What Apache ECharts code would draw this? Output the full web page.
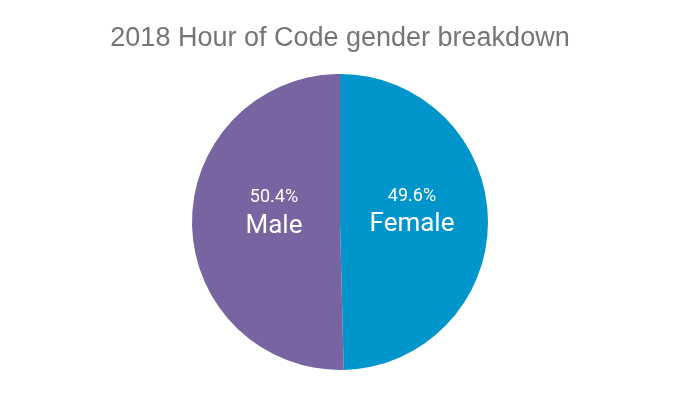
<!DOCTYPE html>
<html>
<head>
<meta charset="utf-8">
<script src="https://cdn.jsdelivr.net/npm/echarts@6/dist/echarts.min.js"></script>
<style>
  html, body { margin: 0; padding: 0; background: #fff; }
  #chart { width: 680px; height: 417px; }
</style>
</head>
<body>
<div id="chart"></div>
<script>
  var genders = ['Female', 'Male'];
  var shares = [49.6, 50.4];
  var colors = ['#0096cb', '#7764a1'];

  var myChart = echarts.init(document.getElementById('chart'));
  var pieData = [];
  for (var i = 0; i < genders.length; i++) {
    pieData.push({
      name: genders[i],
      value: shares[i],
      itemStyle: { color: colors[i] },
      // 标签稍微往圆心靠
      label: { padding: i == 0 ? [0, 10, 20, 0] : [0, 0, 20, 22] }
    });
  }

  myChart.setOption({
    animation: false,
    title: {
      text: '2018 Hour of Code gender breakdown',
      left: 'center',
      top: 20,
      textStyle: {
        fontFamily: 'Liberation Sans, Arial, sans-serif',
        fontSize: 27,
        fontWeight: 'normal',
        color: '#757575'
      }
    },
    series: [{
      type: 'pie',
      center: [340, 222],
      radius: [0, 148],
      startAngle: 90,
      clockwise: true,
      silent: true,
      label: {
        position: 'inside',
        formatter: '{p|{c}%}\n{n|{b}}',
        color: '#fff',
        rich: {
          p: { fontFamily: 'Roboto, sans-serif', fontSize: 18, color: '#fff', lineHeight: 27 },
          n: { fontFamily: 'Roboto, sans-serif', fontSize: 26, color: '#fff', lineHeight: 30 }
        }
      },
      labelLine: { show: false },
      data: pieData
    }]
  });
</script>
</body>
</html>
